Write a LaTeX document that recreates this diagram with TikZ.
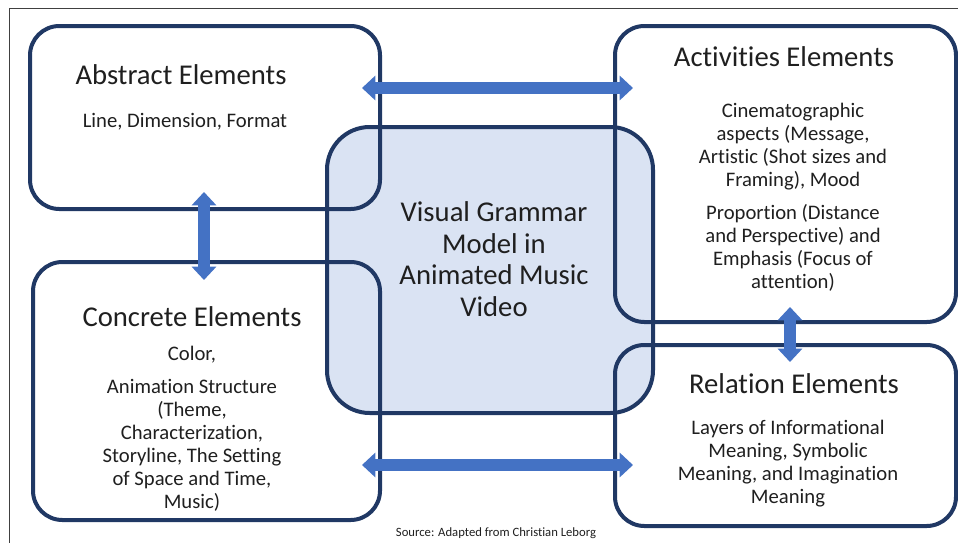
\documentclass[tikz,border=0pt]{standalone}
\usepackage{fontspec}
\setmainfont{Carlito}[Ligatures=NoCommon]
\usetikzlibrary{arrows.meta}
\definecolor{navy}{HTML}{203864}
\definecolor{arrowblue}{HTML}{4472C4}
\definecolor{paleblue}{HTML}{DAE3F3}
\begin{document}
\begin{tikzpicture}[x=0.75pt, y=-0.75pt, text=black!88,
    box/.style={draw=navy, line width=3pt, rounded corners=22pt, inner sep=0pt},
    title/.style={font=\fontsize{21.5}{25}\selectfont, align=center},
    body/.style={font=\fontsize{15.5}{17.25}\selectfont, align=center},
    link/.style={draw=arrowblue, line width=8.5pt,
        {Triangle[length=10pt, width=18pt]}-{Triangle[length=10pt, width=18pt]}}]

    \useasboundingbox (0,0) rectangle (958,543);

    % Outer frame
    \draw[black!75, line width=0.75pt] (9,560) -- (9,8) -- (975,8);

    % Central model box
    \node[box, fill=paleblue, rounded corners=32pt, minimum width=244.5pt, minimum height=214.5pt] (model) at (490,270) {};

    % Element boxes
    \node[box, minimum width=262.5pt, minimum height=137.25pt] (abstract) at (205,117.5) {};
    \node[box, minimum width=260.25pt, minimum height=193.5pt] (concrete) at (206.5,391) {};
    \node[box, minimum width=255.75pt, minimum height=222pt] (activities) at (785.5,174) {};
    \node[box, minimum width=255.75pt, minimum height=135.75pt] (relation) at (785.5,435.5) {};

    % Arrow ends
    \coordinate (absR) at (362,88);
    \coordinate (actL) at (633,88);
    \coordinate (conR) at (362,465);
    \coordinate (relL) at (633,465);
    \coordinate (absB) at (204,192);
    \coordinate (conT) at (204,280);
    \coordinate (actB) at (790,307);
    \coordinate (relT) at (790,362);

    % Links between elements
    \draw[link] (absR) -- (actL);
    \draw[link] (conR) -- (relL);
    \draw[link] (absB) -- (conT);
    \draw[link] (actB) -- (relT);

    % Texts
    \node[font=\fontsize{21.5}{23.6}\selectfont, align=center] (modeltext) at (494,259)
        {Visual Grammar\\Model in\\Animated Music\\Video};

    \node[title] (abstitle) at (181,75) {Abstract Elements};
    \node[body] (absbody) at (185,122) {Line, Dimension, Format};

    \node[title] (acttitle) at (784,57) {Activities Elements};
    \node[body] (actbody) at (793,197.5)
        {Cinematographic\\aspects (Message,\\Artistic (Shot sizes and\\Framing), Mood\\[7.5pt]
         Proportion (Distance\\and Perspective) and\\Emphasis (Focus of\\attention)};

    \node[title] (contitle) at (192,317) {Concrete Elements};
    \node[body] (conbody) at (192,429)
        {Color,\\[7.5pt]Animation Structure\\(Theme,\\Characterization,\\Storyline, The Setting\\of Space and Time,\\Music)};

    \node[title] (reltitle) at (794,384) {Relation Elements};
    \node[body] (relbody) at (788,464)
        {Layers of Informational\\Meaning, Symbolic\\Meaning, and Imagination\\Meaning};

    \node[font=\fontsize{9.5}{11}\selectfont] (source) at (496,533) {Source: Adapted from Christian Leborg};

\end{tikzpicture}
\end{document}
